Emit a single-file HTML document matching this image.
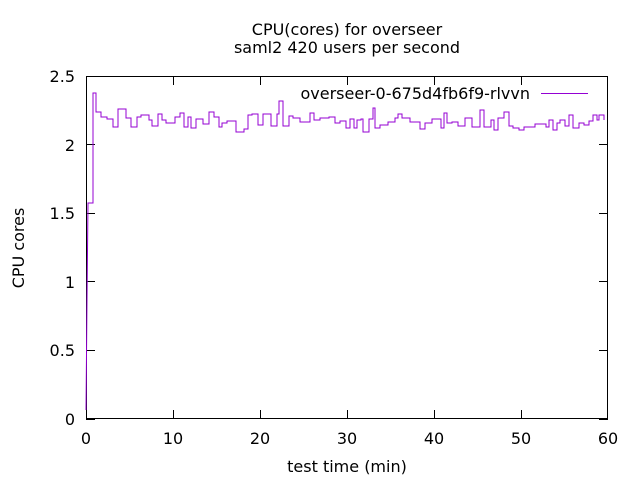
<!DOCTYPE html>
<html><head><style>body{margin:0;background:#fff}svg{display:block}</style></head><body>
<svg width="640" height="480" xmlns="http://www.w3.org/2000/svg" font-family="DejaVu Sans, sans-serif" font-size="16">
<rect width="640" height="480" fill="#fff"/>
<g stroke="#000" stroke-width="1" fill="none">
<rect x="86.5" y="76.5" width="521" height="342"/>
<path d="M86 419.5h9M608 419.5h-9M86 350.5h9M608 350.5h-9M86 281.5h9M608 281.5h-9M86 213.5h9M608 213.5h-9M86 144.5h9M608 144.5h-9
M86.5 419v-9M86.5 76v9M173.5 419v-9M173.5 76v9M260.5 419v-9M260.5 76v9M347.5 419v-9M347.5 76v9M434.5 419v-9M434.5 76v9M521.5 419v-9M521.5 76v9"/>
</g>
<g text-anchor="end">
<text x="75" y="425">0</text><text x="75" y="356">0.5</text><text x="75" y="288">1</text><text x="75" y="219">1.5</text><text x="75" y="151">2</text><text x="75" y="82">2.5</text>
</g>
<g text-anchor="middle">
<text x="86" y="444">0</text><text x="173" y="444">10</text><text x="260" y="444">20</text><text x="347" y="444">30</text><text x="434" y="444">40</text><text x="521" y="444">50</text><text x="608" y="444">60</text>
<text x="347" y="472">test time (min)</text>
<text x="347" y="35">CPU(cores) for overseer</text>
<text x="347" y="53">saml2 420 users per second</text>
<text transform="translate(24,248) rotate(-90)">CPU cores</text>
</g>
<text x="530" y="99" text-anchor="end">overseer-0-675d4fb6f9-rlvvn</text>
<path d="M541 93.5h47" stroke="#9400d3" stroke-width="1"/>
<polyline fill="none" stroke="#9400d3" stroke-width="1" points="86,410 87,300 88,203 93,203 93,93 96,93 96,112 101,112 101,117 107,117 107,119 113,119 113,127 118,127 118,109 126,109 126,118 131,118 131,127 137,127 137,117 141,117 141,115 149,115 149,120 152,120 152,126 158,126 158,114 162,114 162,120 166,120 166,123 175,123 175,117 180,117 180,113 184,113 184,127 188,127 188,117 191,117 191,128 196,128 196,119 203,119 203,124 209,124 209,112 214,112 214,117 219,117 219,127 222,127 222,123 227,123 227,121 236,121 236,132 244,132 244,129 248,129 248,115 252,115 252,114 258,114 258,125 263,125 263,114 271,114 271,126 277,126 277,114 279,114 279,101 283,101 283,126 289,126 289,116 293,116 293,118 300,118 300,122 310,122 310,113 314,113 314,120 320,120 320,118 329,118 329,117 335,117 335,123 340,123 340,121 346,121 346,128 350,128 350,119 354,119 354,128 357,128 357,120 361,120 361,119 363,119 363,132 369,132 369,119 373,119 373,108 375,108 375,128 380,128 380,125 388,125 388,122 395,122 395,118 398,118 398,114 402,114 402,118 410,118 410,122 420,122 420,129 425,129 425,123 432,123 432,119 441,119 441,128 444,128 444,113 447,113 447,123 452,123 452,122 458,122 458,126 465,126 465,118 472,118 472,127 480,127 480,110 484,110 484,127 491,127 491,120 494,120 494,130 498,130 498,118 504,118 504,112 509,112 509,126 513,126 513,128 519,128 519,130 524,130 524,127 535,127 535,124 546,124 546,127 549,127 549,120 553,120 553,130 557,130 557,123 560,123 560,120 565,120 565,126 569,126 569,115 573,115 573,128 579,128 579,123 584,123 584,125 589,125 589,121 593,121 593,115 597,115 597,120 599,120 599,115 604,115 604,120"/>
</svg>
</body></html>
